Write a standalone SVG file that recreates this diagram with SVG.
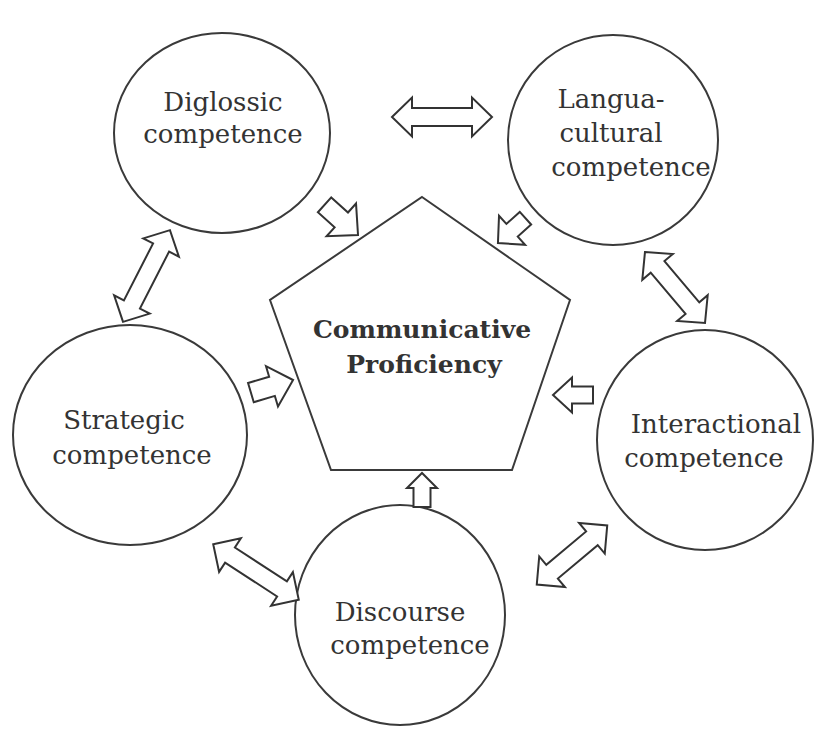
<svg xmlns="http://www.w3.org/2000/svg" width="816" height="736" viewBox="0 0 816 736">
<defs>
<style>
.node ellipse,.node polygon{fill:#fff;stroke:#3a3a3a;stroke-width:2}
.lbl{font-family:"DejaVu Serif","Liberation Serif",serif;font-size:26px;fill:#333;text-anchor:middle}
.title{font-family:"DejaVu Serif","Liberation Serif",serif;font-size:25px;font-weight:bold;fill:#333;text-anchor:middle}
.arr{fill:#fff;stroke:#333;stroke-width:2;stroke-linejoin:miter}
</style>
</defs>
<rect width="816" height="736" fill="#fff"/>
<g id="diglossic" class="node"><ellipse cx="222" cy="133" rx="108" ry="100"/><text class="lbl" x="223" y="111">Diglossic</text><text class="lbl" x="223" y="143">competence</text></g>
<g id="languacultural" class="node"><ellipse cx="613" cy="140" rx="105" ry="105"/><text class="lbl" x="611" y="108">Langua-</text><text class="lbl" x="611" y="142">cultural</text><text class="lbl" x="631" y="176">competence</text></g>
<g id="strategic" class="node"><ellipse cx="130" cy="435" rx="117" ry="110"/><text class="lbl" x="124" y="429">Strategic</text><text class="lbl" x="132" y="464">competence</text></g>
<g id="interactional" class="node"><ellipse cx="705" cy="440" rx="108" ry="110"/><text class="lbl" x="716" y="433">Interactional</text><text class="lbl" x="704" y="467">competence</text></g>
<g id="discourse" class="node"><ellipse cx="400" cy="615" rx="105" ry="110"/><text class="lbl" x="400" y="621">Discourse</text><text class="lbl" x="410" y="654">competence</text></g>
<g id="proficiency" class="node"><polygon points="422,197 570,300 512,470 331,470 270,300"/><text class="title" x="422" y="338">Communicative</text><text class="title" x="424" y="373">Proficiency</text></g>
<g id="connectors">
<polygon class="arr" transform="translate(442,117)" points="-50,0 -30,-19.5 -30,-9 30,-9 30,-19.5 50,0 30,19.5 30,9 -30,9 -30,19.5"/>
<polygon class="arr" transform="translate(146.5,276) rotate(-62.9)" points="-51.5,0 -32,-20 -32,-9 32,-9 32,-20 51.5,0 32,20 32,9 -32,9 -32,20"/>
<polygon class="arr" transform="translate(675,287.5) rotate(49.8)" points="-46.5,0 -27,-20 -27,-9 27,-9 27,-20 46.5,0 27,20 27,9 -27,9 -27,20"/>
<polygon class="arr" transform="translate(256,572) rotate(33)" points="-51,0 -31,-20 -31,-9 31,-9 31,-20 51,0 31,20 31,9 -31,9 -31,20"/>
<polygon class="arr" transform="translate(572,555) rotate(-40)" points="-46,0 -26,-20 -26,-9 26,-9 26,-20 46,0 26,20 26,9 -26,9 -26,20"/>
<polygon class="arr" transform="translate(341.3,219.9) rotate(42)" points="-22.5,-10 0,-10 0,-22 22.5,0 0,22 0,10 -22.5,10"/>
<polygon class="arr" transform="translate(511.7,230.6) rotate(138)" points="-18.5,-8.5 -0.5,-8.5 -0.5,-19.5 18.5,0 -0.5,19.5 -0.5,8.5 -18.5,8.5"/>
<polygon class="arr" transform="translate(272,386.3) rotate(-16.6)" points="-22,-10 0,-10 0,-21 22,0 0,21 0,10 -22,10"/>
<polygon class="arr" transform="translate(573,395) rotate(180)" points="-20,-8.5 1,-8.5 1,-17.5 20,0 1,17.5 1,8.5 -20,8.5"/>
<polygon class="arr" transform="translate(422,490) rotate(-90)" points="-17,-8.5 2,-8.5 2,-15 17,0 2,15 2,8.5 -17,8.5"/>
</g>
</svg>
